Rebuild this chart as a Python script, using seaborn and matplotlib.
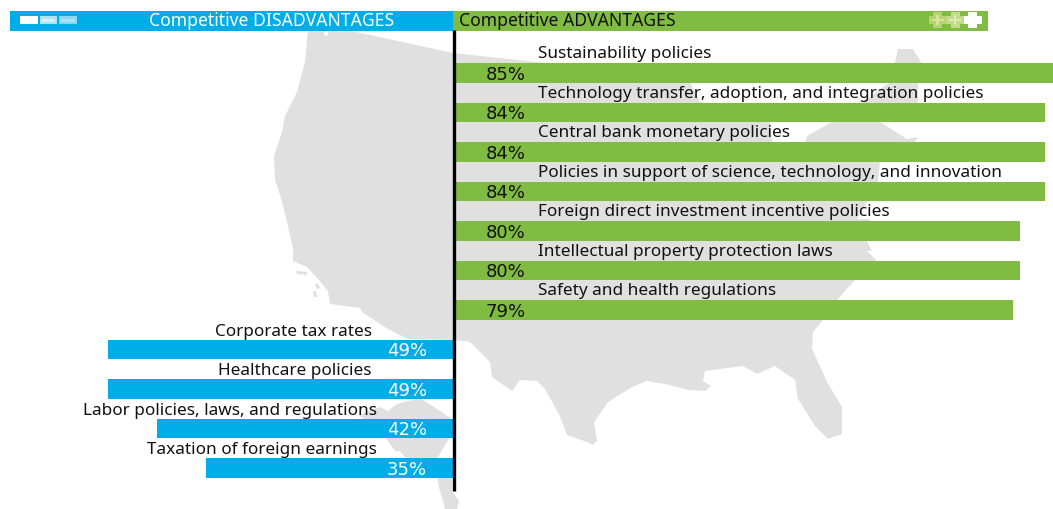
import matplotlib
matplotlib.use("Agg")
import matplotlib.pyplot as plt
from matplotlib.patches import Polygon, Rectangle
import pandas as pd
import seaborn as sns

# ---- data ----
categories = ["Sustainability policies",
              "Technology transfer, adoption, and integration policies",
              "Central bank monetary policies",
              "Policies in support of science, technology, and innovation",
              "Foreign direct investment incentive policies",
              "Intellectual property protection laws",
              "Safety and health regulations",
              "Corporate tax rates",
              "Healthcare policies",
              "Labor policies, laws, and regulations",
              "Taxation of foreign earnings"]
printed_shares = [85, 84, 84, 84, 80, 80, 79, 49, 49, 42, 35]
bar_lengths = [85.2, 83.8, 83.8, 83.8, 80.2, 80.2, 79.2, 49.1, 49.1, 42.2, 35.2]
sides = ["Advantage"] * 7 + ["Disadvantage"] * 4
header_left = "Competitive DISADVANTAGES"
header_right = "Competitive ADVANTAGES"

BLUE, GREEN, GRAY, INK = "#00ADE8", "#80BC42", "#E0E0E0", "#111111"
FONT = "Noto Sans"
PCT_FONT = "DejaVu Sans"
W, H = 1053, 510

# background map silhouette, in pixels
usa_outline = [(308,31),(347,31),(453,54),(536,63),(620,70),(690,83),(700,103),(770,123),(772,143),
    (805,143),(807,137),(832,123),(863,103),(890,83),(895,63),(898,50),(913,50),(921,63),(918,83),
    (918,103),(880,123),(907,140),(918,138),(915,143),(880,162),(878,183),(867,203),(857,220),(870,220),
    (867,242),(872,252),(867,252),(877,262),(853,283),(838,300),(822,322),(813,333),(812,350),(828,385),
    (842,408),(842,435),(828,440),(815,427),(798,400),(795,381),(775,367),(757,375),(743,367),(705,372),
    (703,382),(711,387),(705,392),(688,391),(670,386),(647,382),(632,388),(608,403),(594,423),(597,442),
    (593,446),(587,443),(567,436),(560,417),(545,390),(537,382),(520,381),(512,392),(492,378),(490,363),
    (470,343),(455,341),(408,340),(388,330),(362,313),(360,309),(330,305),(328,292),(318,280),(307,268),
    (293,262),(293,250),(287,223),(282,203),(275,180),(274,157),(282,133),(285,117),(297,93),(305,63),(307,42)]
mexico_outline = [(359,417),(368,412),(380,408),(388,412),(397,405),(420,399),(440,412),(456,423),(452,430),
    (450,438),(438,458),(452,470),(452,492),(459,502),(457,510),(445,510),(443,502),(438,485),(438,478),
    (405,458),(400,452),(395,452),(385,438),(372,425)]
islands = [[(296,272),(307,273),(307,276),(297,275)],
           [(315,285),(318,285),(320,289),(317,290)],
           [(313,292),(316,292),(317,298),(314,298)]]

sns.set_theme(style="white")
plt.rcParams["font.family"] = [FONT, "DejaVu Sans"]
fig = plt.figure(figsize=(W / 100, H / 100), dpi=100, facecolor="white")

def pixel_axes(z):
    a = fig.add_axes([0, 0, 1, 1], zorder=z)
    a.set_xlim(0, W); a.set_ylim(H, 0); a.axis("off")
    return a

bg = pixel_axes(1)
for poly in [usa_outline, mexico_outline] + islands:
    bg.add_patch(Polygon(poly, closed=True, fc=GRAY, ec="none"))
bg.add_patch(Polygon([(324,33),(328,32),(328,36),(325,37)], closed=True, fc="white", ec="none"))

# bars, on a signed percentage axis
ax = fig.add_axes([0, 0, 1, 1], zorder=2)
ax.patch.set_alpha(0)
df = pd.DataFrame({"category": categories,
                   "signed": [v if s == "Advantage" else -v for v, s in zip(bar_lengths, sides)],
                   "side": sides})
sns.barplot(data=df, y="category", x="signed", hue="side", order=categories, dodge=False,
            palette={"Advantage": GREEN, "Disadvantage": BLUE}, width=0.485,
            legend=False, ax=ax, saturation=1, linewidth=0)
PX_PER_PCT, ZERO_PX = 7.05, 454.5
ROW_PX, FIRST_PX = 39.5, 74.0
ax.set_xlim(-ZERO_PX / PX_PER_PCT, (W - ZERO_PX) / PX_PER_PCT)
ax.set_ylim((H - FIRST_PX) / ROW_PX, -FIRST_PX / ROW_PX)
ax.axis("off")

LABEL_PT, PCT_PT = 12.35, 13.0
label_end_px = {"Corporate tax rates": 372, "Healthcare policies": 372,
                "Labor policies, laws, and regulations": 377, "Taxation of foreign earnings": 377}
for i, (c, v, s) in enumerate(zip(categories, printed_shares, sides)):
    if s == "Advantage":
        ax.annotate(c, (0, i), xytext=(83, 19.5), textcoords="offset pixels", ha="left", va="center",
                    fontsize=LABEL_PT, color=INK)
        ax.annotate(f"{v}%", (0, i), xytext=(51.5, -1), textcoords="offset pixels", ha="center", va="center",
                    fontsize=PCT_PT, color=INK, family=PCT_FONT)
    else:
        ax.annotate(c, (0, i), xytext=(label_end_px[c] - ZERO_PX, 18.5), textcoords="offset pixels",
                    ha="right", va="center", fontsize=LABEL_PT, color=INK)
        ax.annotate(f"{v}%", (0, i), xytext=(-47.5, -1), textcoords="offset pixels", ha="center", va="center",
                    fontsize=PCT_PT, color="white", family=PCT_FONT)

# header strip, spine and decorations
top = pixel_axes(3)
top.add_patch(Rectangle((10, 11.5), 443, 20, fc=BLUE, ec="none"))
top.add_patch(Rectangle((453, 11.5), 535, 20, fc=GREEN, ec="none"))
top.text(271.5, 21, header_left, color="white", ha="center", va="center", fontsize=12.65)
top.text(459, 21, header_right, color=INK, ha="left", va="center", fontsize=12.65)
for x0, x1, c, inner in [(20, 38, "white", None), (40, 57, "#B0E2F6", "#D5F0FA"), (59, 77, "#8AD6F3", "#B0E2F6")]:
    top.add_patch(Rectangle((x0, 17.3), x1 - x0, 7.7, fc=c, ec="none"))
    if inner:
        top.add_patch(Rectangle((x0 + 2, 20), x1 - x0 - 4, 2.5, fc=inner, ec="none"))
for x, c, inner in [(937.5, "#B5D374", "#D8E49C"), (955, "#C3DA8C", "#E0EAB4"), (972.5, "white", "white")]:
    for (bx, by, bw, bh, col) in [(x - 9, 16.5, 18, 8.5, c), (x - 4.5, 13, 9, 16, c),
                                  (x - 6, 19.5, 12, 2.5, inner), (x - 1.2, 16, 2.5, 10, inner)]:
        top.add_patch(Rectangle((bx, by), bw, bh, fc=col, ec="none"))
top.plot([453.8, 453.8], [31, 492], color="black", lw=2.4, solid_capstyle="butt")

fig.savefig("out.png", dpi=100)
